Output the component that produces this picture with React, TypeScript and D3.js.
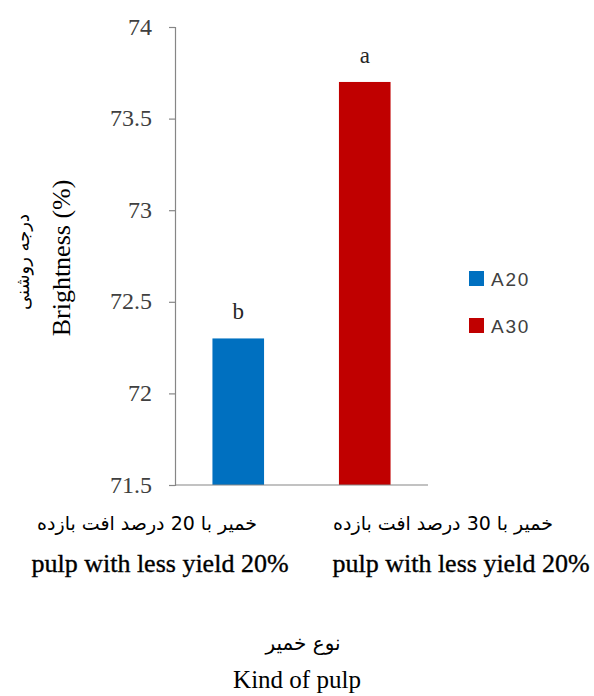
import React, { useEffect, useRef } from "react";
import * as d3 from "d3";

// Brightness of two pulp types
const categories = ["A20", "A30"];
const brightness = [72.3, 73.7];
const letters = ["b", "a"];
const barColors = ["#0070C0", "#C00000"];
const yTicks = [71.5, 72, 72.5, 73, 73.5, 74];
const labelsFa = ["خمیر با 20 درصد افت بازده", "خمیر با 30 درصد افت بازده"];
const labelsEn = ["pulp with less yield 20%", "pulp with less yield 20%"];

const W = 594;
const H = 696;

export default function App() {
  const ref = useRef<SVGSVGElement | null>(null);

  useEffect(() => {
    const svg = d3.select(ref.current);
    svg.selectAll("*").remove();

    const x = d3.scaleBand<string>().domain(categories).range([175, 428]).padding(0);
    const y = d3.scaleLinear().domain([71.5, 74]).range([485, 27]);
    const barW = x.bandwidth() * 0.408;

    const serif = "Liberation Serif";
    const arabic = "DejaVu Sans";
    const fmt = d3.format("~g");

    // bars
    svg
      .append("g")
      .selectAll("rect")
      .data(categories)
      .join("rect")
      .attr("x", (d) => (x(d) as number) + (x.bandwidth() - barW) / 2)
      .attr("y", (_, i) => y(brightness[i]))
      .attr("width", barW)
      .attr("height", (_, i) => y(71.5) - y(brightness[i]))
      .attr("fill", (_, i) => barColors[i]);

    // significance letters
    svg
      .append("g")
      .selectAll("text")
      .data(categories)
      .join("text")
      .attr("x", (d) => (x(d) as number) + x.bandwidth() / 2)
      .attr("y", (_, i) => y(brightness[i]) - 19)
      .attr("text-anchor", "middle")
      .style("font-family", serif)
      .attr("font-size", 23)
      .attr("fill", "#262626")
      .text((_, i) => letters[i]);

    // y axis line and ticks
    const yAxis = d3.axisLeft(y).tickValues(yTicks).tickSize(6).tickFormat(() => "");
    const gy = svg.append("g").attr("transform", "translate(175,0)").call(yAxis);
    gy.select(".domain").attr("stroke", "#868686").attr("stroke-width", 1.2);
    gy.selectAll(".tick line").attr("stroke", "#868686").attr("stroke-width", 1.2);

    // y tick labels
    svg
      .append("g")
      .selectAll("text")
      .data(yTicks)
      .join("text")
      .attr("x", 152)
      .attr("y", (d) => y(d))
      .attr("dy", "0.32em")
      .attr("text-anchor", "end")
      .style("font-family", serif)
      .attr("font-size", 24)
      .attr("fill", "#404040")
      .text((d) => fmt(d));

    // x axis line
    svg
      .append("line")
      .attr("x1", 175)
      .attr("x2", 428)
      .attr("y1", y(71.5))
      .attr("y2", y(71.5))
      .attr("stroke", "#868686")
      .attr("stroke-width", 1.2);

    // category labels
    const faX = [147, 443];
    const enX = [160, 461];
    labelsFa.forEach((t, i) => {
      svg
        .append("text")
        .attr("x", faX[i])
        .attr("y", 530)
        .attr("text-anchor", "middle")
        .style("font-family", arabic)
        .attr("font-size", 19)
        .attr("fill", "#000")
        .attr("direction", "rtl")
        .text(t);
    });
    labelsEn.forEach((t, i) => {
      svg
        .append("text")
        .attr("x", enX[i])
        .attr("y", 572)
        .attr("text-anchor", "middle")
        .style("font-family", serif)
        .attr("font-size", 26)
        .attr("fill", "#000")
        .attr("stroke", "#000")
        .attr("stroke-width", 0.35)
        .text(t);
    });

    // x title
    svg
      .append("text")
      .attr("x", 303)
      .attr("y", 650)
      .attr("text-anchor", "middle")
      .style("font-family", arabic)
      .attr("font-size", 20)
      .attr("direction", "rtl")
      .text("نوع خمیر");
    svg
      .append("text")
      .attr("x", 297)
      .attr("y", 688)
      .attr("text-anchor", "middle")
      .style("font-family", serif)
      .attr("font-size", 25)
      .text("Kind of pulp");

    // y title
    svg
      .append("text")
      .attr("transform", "translate(70,258) rotate(-90)")
      .attr("text-anchor", "middle")
      .style("font-family", serif)
      .attr("font-size", 26)
      .attr("fill", "#000")
      .text("Brightness (%)");
    svg
      .append("text")
      .attr("transform", "translate(29,262) rotate(-90)")
      .attr("text-anchor", "middle")
      .style("font-family", arabic)
      .attr("font-size", 18)
      .attr("direction", "rtl")
      .text("درجه روشنی");

    // legend
    const lg = svg
      .append("g")
      .selectAll("g")
      .data(categories)
      .join("g")
      .attr("transform", (_, i) => `translate(469,${271 + i * 47})`);
    lg.append("rect").attr("width", 15).attr("height", 15).attr("fill", (_, i) => barColors[i]);
    lg.append("text")
      .attr("x", 22)
      .attr("y", 8)
      .attr("dy", "0.35em")
      .style("font-family", "Liberation Sans")
      .attr("font-size", 19)
      .attr("letter-spacing", 1.8)
      .attr("fill", "#404040")
      .text((d) => d);
  }, []);

  return (
    <svg
      ref={ref}
      width={W}
      height={H}
      style={{ position: "absolute", left: 0, top: 0, background: "#fff" }}
    />
  );
}
